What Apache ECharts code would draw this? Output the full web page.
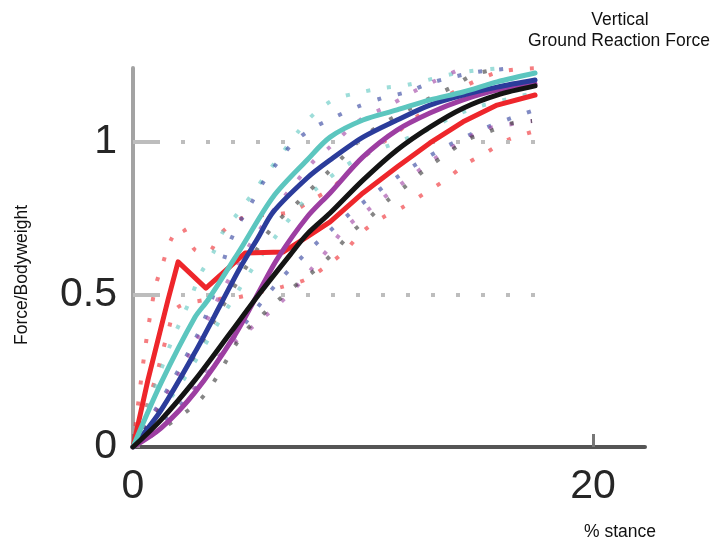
<!DOCTYPE html>
<html><head><meta charset="utf-8">
<script src="https://cdn.jsdelivr.net/npm/echarts@6/dist/echarts.min.js"></script>
<style>html,body{margin:0;padding:0;background:#fff}#c{width:717px;height:539px}</style>
</head><body><div id="c"></div>
<script>
// ---- data (x = % stance, y = force / bodyweight) ----
const xTicks = [0, 20];
const yTicks = [0, 0.5, 1];
const refLevels = [0.5, 1];
const refEndX = 17.5;

const redMean = [[0,0],[0.65,0.22],[1.52,0.482],[1.96,0.607],[3.17,0.521],[4.87,0.636],[6.52,0.639],[7.57,0.689],[8.57,0.738],[10.0,0.833],[11.48,0.918],[12.91,0.997],[14.35,1.066],[15.83,1.121],[17.48,1.154]];
const cyanMean = [[0,0],[1.22,0.21],[2.70,0.426],[3.26,0.482],[4.65,0.646],[6.09,0.82],[7.57,0.941],[8.57,1.016],[10.0,1.072],[11.48,1.105],[12.91,1.138],[14.35,1.164],[15.83,1.197],[17.48,1.226]];
const blueMean = [[0,0],[1.22,0.121],[2.70,0.311],[3.91,0.482],[4.65,0.587],[5.43,0.685],[6.09,0.770],[7.57,0.882],[8.57,0.941],[10.0,1.016],[11.48,1.072],[12.91,1.121],[14.35,1.154],[15.83,1.180],[17.48,1.203]];
const purpleMean = [[0,0],[1.22,0.062],[2.70,0.180],[4.43,0.367],[5.52,0.515],[6.30,0.620],[7.57,0.754],[8.57,0.833],[10.0,0.951],[11.48,1.039],[12.91,1.095],[14.35,1.138],[15.83,1.170],[17.48,1.190]];
const blackMean = [[0,0],[1.22,0.089],[2.70,0.220],[4.26,0.377],[5.52,0.505],[6.83,0.630],[7.57,0.698],[8.57,0.767],[10.0,0.875],[11.48,0.974],[12.91,1.049],[14.35,1.111],[15.83,1.154],[17.48,1.184]];

const redUpper = [[0,0],[0.52,0.318],[0.96,0.521],[1.30,0.603],[1.65,0.679],[2.09,0.721],[2.70,0.646],[3.26,0.639],[3.83,0.702],[4.78,0.751],[6.83,0.770],[7.78,0.810],[8.70,0.852],[9.87,0.941],[11.61,1.039],[13.35,1.138],[15.74,1.226],[17.48,1.242]];
const redLower = [[0,0],[0.96,0.220],[1.52,0.377],[1.91,0.456],[3.13,0.482],[4.43,0.489],[5.52,0.508],[6.48,0.525],[7.48,0.548],[8.35,0.590],[9.22,0.643],[9.96,0.705],[10.83,0.751],[11.74,0.787],[12.70,0.833],[13.57,0.875],[14.43,0.925],[15.39,0.967],[16.30,1.007],[17.35,1.033]];
const cyanUpper = [[0,0],[0.74,0.154],[1.65,0.341],[2.09,0.416],[2.48,0.482],[2.91,0.564],[3.48,0.636],[3.91,0.705],[4.57,0.767],[5.22,0.833],[5.87,0.902],[6.52,0.967],[7.17,1.033],[7.91,1.095],[8.78,1.141],[9.78,1.161],[10.87,1.177],[11.91,1.187],[14.09,1.226],[15.96,1.242]];
const cyanLower = [[0,0],[2.04,0.203],[3.78,0.416],[5.30,0.597],[6.52,0.721],[7.91,0.843],[9.65,0.941],[11.17,0.990],[12.61,1.033],[14.57,1.105],[16.70,1.148],[17.48,1.161]];
const blueUpper = [[0,0],[1.61,0.203],[2.91,0.384],[3.57,0.515],[4.13,0.656],[4.57,0.728],[5.09,0.793],[5.61,0.862],[6.26,0.931],[6.96,0.997],[7.83,1.046],[8.78,1.082],[9.74,1.115],[10.83,1.144],[11.91,1.164],[12.91,1.193],[13.91,1.213],[14.96,1.230],[16.5,1.242]];
const blueLower = [[0,0],[2.48,0.170],[4.65,0.384],[6.39,0.548],[8.13,0.679],[9.87,0.793],[11.61,0.892],[13.35,0.974],[15.09,1.039],[16.83,1.089],[17.48,1.105]];
const purpleUpper = [[0,0],[2.0,0.24],[3.91,0.515],[5.65,0.728],[7.78,0.931],[8.57,0.984],[9.87,1.072],[11.17,1.121],[12.17,1.164],[13.04,1.197],[14.13,1.236]];
const purpleLower = [[0,0],[2.04,0.12],[3.13,0.252],[4.78,0.367],[5.65,0.423],[6.39,0.472],[7.17,0.531],[7.83,0.590],[8.57,0.656],[9.22,0.718],[10.09,0.77],[11.61,0.859],[13.35,0.957],[15.22,1.039],[16.26,1.056],[17.35,1.069]];
const blackUpper = [[0,0],[2.04,0.220],[3.78,0.446],[5.65,0.679],[6.26,0.738],[7.04,0.793],[8.57,0.908],[10.30,1.033],[12.91,1.144],[13.87,1.180],[14.78,1.220],[16.0,1.242]];
const blackLower = [[0,0],[2.91,0.154],[4.74,0.367],[5.52,0.426],[6.83,0.515],[7.91,0.580],[8.70,0.636],[9.52,0.705],[10.30,0.754],[11.09,0.810],[11.91,0.859],[12.78,0.915],[13.57,0.957],[14.52,1.007],[15.43,1.033],[16.48,1.062],[17.35,1.069]];

// ---- styling ----
const C = {red:'#ee262b', cyan:'#5cc6bf', blue:'#2b3c9b', purple:'#9d3ea2', black:'#141414'};
const FONT = 'Liberation Sans, Arial, Helvetica, sans-serif';

function band(data, color) {
  return {type:'line', data, smooth:0.3, showSymbol:false, silent:true, z:2,
    lineStyle:{color, width:4, type:[4,17], cap:'butt', opacity:0.6}};
}
function mean(data, color, smooth, z) {
  return {type:'line', data, smooth, showSymbol:false, silent:true, z,
    lineStyle:{color, width:5, cap:'round', join:'round'}};
}
const gridDash = [27,21].concat(Array(24).fill([4,21]).flat());

const chart = echarts.init(document.getElementById('c'), null, {renderer:'canvas'});
chart.setOption({
  animation:false,
  backgroundColor:'#ffffff',
  grid:{left:133, right:72, top:68, bottom:92, containLabel:false},
  xAxis:{type:'value', min:0, max:22.26, interval:20,
    axisLine:{lineStyle:{color:'#555', width:4}},
    axisTick:{inside:true, length:13, lineStyle:{color:'#777', width:3}},
    splitLine:{show:false},
    axisLabel:{showMaxLabel:false, margin:19, fontSize:41, color:'#262626', fontFamily:FONT,
      formatter:v => xTicks.includes(v) ? String(v) : ''}},
  yAxis:{type:'value', min:0, max:1.2426, interval:0.5,
    axisLine:{lineStyle:{color:'#a3a3a3', width:4}},
    axisTick:{inside:true, length:7, lineStyle:{color:'#8a8a8a', width:2}},
    splitLine:{show:false},
    axisLabel:{showMaxLabel:false, margin:16, fontSize:41, color:'#262626', fontFamily:FONT,
      formatter:v => yTicks.includes(v) ? String(v) : ''}},
  graphic:[
    {type:'text', x:620, y:20, style:{text:'Vertical', fill:'#111', font:'17.5px '+FONT, align:'center', verticalAlign:'middle'}},
    {type:'text', x:619, y:41, style:{text:'Ground Reaction Force', fill:'#111', font:'17.5px '+FONT, align:'center', verticalAlign:'middle'}},
    {type:'text', x:620, y:532, style:{text:'% stance', fill:'#111', font:'17.5px '+FONT, align:'center', verticalAlign:'middle'}},
    {type:'text', x:22, y:275, rotation:Math.PI/2, style:{text:'Force/Bodyweight', fill:'#111', font:'17.5px '+FONT, align:'center', verticalAlign:'middle'}}
  ],
  series:[
    {type:'line', data:[], silent:true,
      markLine:{silent:true, symbol:'none', label:{show:false},
        lineStyle:{color:'#bdbdbd', width:4, type:gridDash, cap:'butt'},
        data:refLevels.map(v => [{coord:[0,v]},{coord:[refEndX,v]}])}},
    band(redUpper, C.red), band(redLower, C.red),
    band(cyanUpper, C.cyan), band(cyanLower, C.cyan),
    band(blueUpper, C.blue), band(blueLower, C.blue),
    band(purpleUpper, C.purple), band(purpleLower, C.purple),
    band(blackUpper, '#333'), band(blackLower, '#333'),
    mean(redMean, C.red, false, 5),
    mean(purpleMean, C.purple, 0.3, 6),
    mean(blueMean, C.blue, 0.3, 7),
    mean(cyanMean, C.cyan, 0.3, 8),
    mean(blackMean, C.black, 0.3, 9)
  ]
});
</script></body></html>
